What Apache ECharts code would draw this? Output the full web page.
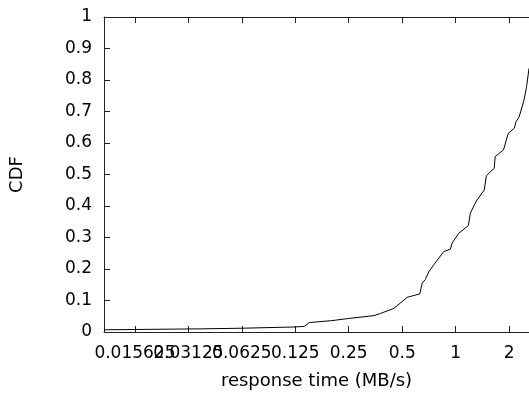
<!DOCTYPE html>
<html>
<head>
<meta charset="utf-8">
<script src="https://cdn.jsdelivr.net/npm/echarts@6/dist/echarts.min.js"></script>
<style>
html,body{margin:0;padding:0;background:#fff;}
#container{width:529px;height:396px;}
</style>
</head>
<body>
<div id="container"></div>
<script>
// response time (MB/s) and CDF
var respTime = [0.01046, 0.0369, 0.0625, 0.125, 0.1405, 0.1499, 0.2, 0.25, 0.347, 0.378, 0.449, 0.533,
	0.628, 0.648, 0.676, 0.706, 0.753, 0.856, 0.934, 0.955, 1.04, 1.18, 1.21, 1.29, 1.32, 1.45,
	1.49, 1.65, 1.67, 1.86, 1.98, 2.14, 2.19, 2.28, 2.43, 2.51, 2.59];
var cdf = [0.007, 0.010, 0.012, 0.016, 0.018, 0.030, 0.036, 0.043, 0.052, 0.059, 0.075, 0.110,
	0.121, 0.155, 0.167, 0.191, 0.213, 0.255, 0.263, 0.282, 0.313, 0.338, 0.377, 0.409, 0.419, 0.451,
	0.496, 0.520, 0.557, 0.578, 0.631, 0.647, 0.668, 0.683, 0.737, 0.779, 0.837];
var xTicks = [0.015625, 0.03125, 0.0625, 0.125, 0.25, 0.5, 1, 2];
var xMin = 0.01046, xMax = 2.59;

var e = {
	init: function(){
		var myChart = echarts.init(document.getElementById('container'));
		var pts = [];
		for (var i = 0; i < respTime.length; i++) pts.push([Math.log2(respTime[i]), cdf[i]]);
		var tickPos = xTicks.map(function(v){ return Math.log2(v); });
		// labels overlap in the original, so split them over two axes to keep them all
		var evenPos = tickPos.filter(function(v, i){ return i % 2 == 0; });
		var oddPos = tickPos.filter(function(v, i){ return i % 2 == 1; });
		var font = {fontFamily: 'DejaVu Sans', fontSize: 17, color: '#000'};
		var axLine = {onZero: false, lineStyle: {color: '#222', width: 1}};
		var fmt = function(v){ return String(Math.pow(2, Math.round(v))); };
		var option = {
			backgroundColor: '#fff',
			animation: false,
			grid: {left: 102, top: 17, right: 0, bottom: 64},
			xAxis: [{
				type: 'value',
				min: Math.log2(xMin), max: Math.log2(xMax),
				name: 'response time (MB/s)',
				nameLocation: 'middle', nameGap: 40,
				nameTextStyle: {fontFamily: 'DejaVu Sans', fontSize: 18, color: '#000'},
				axisLine: axLine,
				splitLine: {show: false},
				axisTick: {inside: true, length: 6, customValues: tickPos, lineStyle: {color: '#222'}},
				axisLabel: Object.assign({margin: 13, customValues: evenPos, hideOverlap: false, formatter: fmt}, font)
			},{
				type: 'value', position: 'bottom', offset: 0,
				min: Math.log2(xMin), max: Math.log2(xMax),
				axisLine: {show: false, onZero: false},
				splitLine: {show: false},
				axisTick: {show: false},
				axisLabel: Object.assign({margin: 13, customValues: oddPos, hideOverlap: false, formatter: fmt}, font)
			},{
				type: 'value', position: 'top',
				min: Math.log2(xMin), max: Math.log2(xMax),
				axisLine: axLine,
				splitLine: {show: false},
				axisTick: {inside: true, length: 6, customValues: tickPos, lineStyle: {color: '#222'}},
				axisLabel: {show: false}
			}],
			yAxis: [{
				type: 'value', min: 0, max: 1, interval: 0.1,
				name: 'CDF', nameLocation: 'middle', nameGap: 78,
				nameTextStyle: {fontFamily: 'DejaVu Sans', fontSize: 18, color: '#000'},
				axisLine: {show: true, onZero: false, lineStyle: {color: '#222', width: 1}},
				splitLine: {show: false},
				axisTick: {show: true, inside: true, length: 6, lineStyle: {color: '#222'}},
				axisLabel: Object.assign({margin: 12}, font)
			}],
			series: [{
				type: 'line',
				data: pts,
				showSymbol: false,
				smooth: false,
				lineStyle: {color: '#000', width: 1},
				itemStyle: {color: '#000'}
			}]
		};
		myChart.setOption(option);
	}
};
e.init();
</script>
</body>
</html>
